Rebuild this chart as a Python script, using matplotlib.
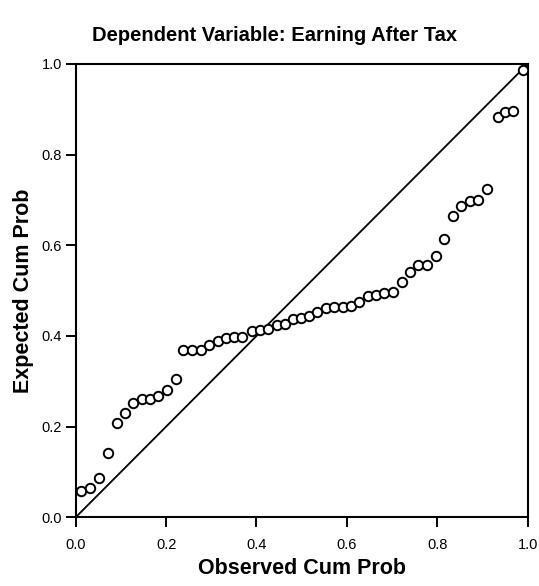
import matplotlib
matplotlib.use("Agg")
import matplotlib.pyplot as plt

observed = [0.012, 0.032, 0.052, 0.071, 0.091, 0.109, 0.127, 0.146, 0.164, 0.183,
            0.203, 0.222, 0.238, 0.257, 0.277, 0.296, 0.314, 0.333, 0.351, 0.369,
            0.389, 0.408, 0.426, 0.445, 0.462, 0.480, 0.498, 0.517, 0.535, 0.554,
            0.571, 0.591, 0.609, 0.627, 0.646, 0.664, 0.682, 0.703, 0.721, 0.740,
            0.758, 0.778, 0.797, 0.815, 0.834, 0.852, 0.872, 0.891, 0.911, 0.935,
            0.950, 0.967, 0.989]
expected = [0.057, 0.065, 0.087, 0.141, 0.208, 0.230, 0.252, 0.260, 0.262, 0.268,
            0.281, 0.305, 0.369, 0.369, 0.369, 0.380, 0.390, 0.395, 0.397, 0.397,
            0.410, 0.413, 0.415, 0.425, 0.427, 0.437, 0.439, 0.445, 0.452, 0.461,
            0.464, 0.464, 0.466, 0.476, 0.489, 0.491, 0.494, 0.496, 0.520, 0.542,
            0.557, 0.557, 0.577, 0.614, 0.664, 0.686, 0.697, 0.700, 0.724, 0.882,
            0.894, 0.897, 0.987]
ticks = [0.0, 0.2, 0.4, 0.6, 0.8, 1.0]
tick_labels = ["0.0", "0.2", "0.4", "0.6", "0.8", "1.0"]
title = "Dependent Variable: Earning After Tax"
xlabel = "Observed Cum Prob"
ylabel = "Expected Cum Prob"

plt.rcParams['font.family'] = ['Liberation Sans', 'DejaVu Sans']

fig = plt.figure(figsize=(5.39, 5.86), dpi=100)
ax = fig.add_axes([0.1404, 0.1172, 0.8386, 0.7736])

ax.plot([0, 1], [0, 1], color='black', linewidth=1.3, zorder=2)
ax.plot(observed, expected, linestyle='none', marker='o', markersize=6.8,
        markerfacecolor='white', markeredgecolor='black', markeredgewidth=1.4, zorder=3)

ax.set_xlim(0, 1)
ax.set_ylim(0, 1)
ax.set_xticks(ticks)
ax.set_xticklabels(tick_labels)
ax.set_yticks(ticks)
ax.set_yticklabels(tick_labels)
ax.tick_params(direction='out', length=7, width=1.4, labelsize=10.5, colors='black')
ax.tick_params(axis='x', pad=8)
ax.tick_params(axis='y', pad=3)
for s in ax.spines.values():
    s.set_linewidth(1.5)
    s.set_color('black')

ax.set_xlabel(xlabel, fontsize=15.5, fontweight='bold', labelpad=4)
ax.set_ylabel(ylabel, fontsize=15.5, fontweight='bold', labelpad=5)
fig.text(0.51, 0.94, title, ha='center', va='center', fontsize=14.5, fontweight='bold')

fig.savefig("out.png", dpi=100)
